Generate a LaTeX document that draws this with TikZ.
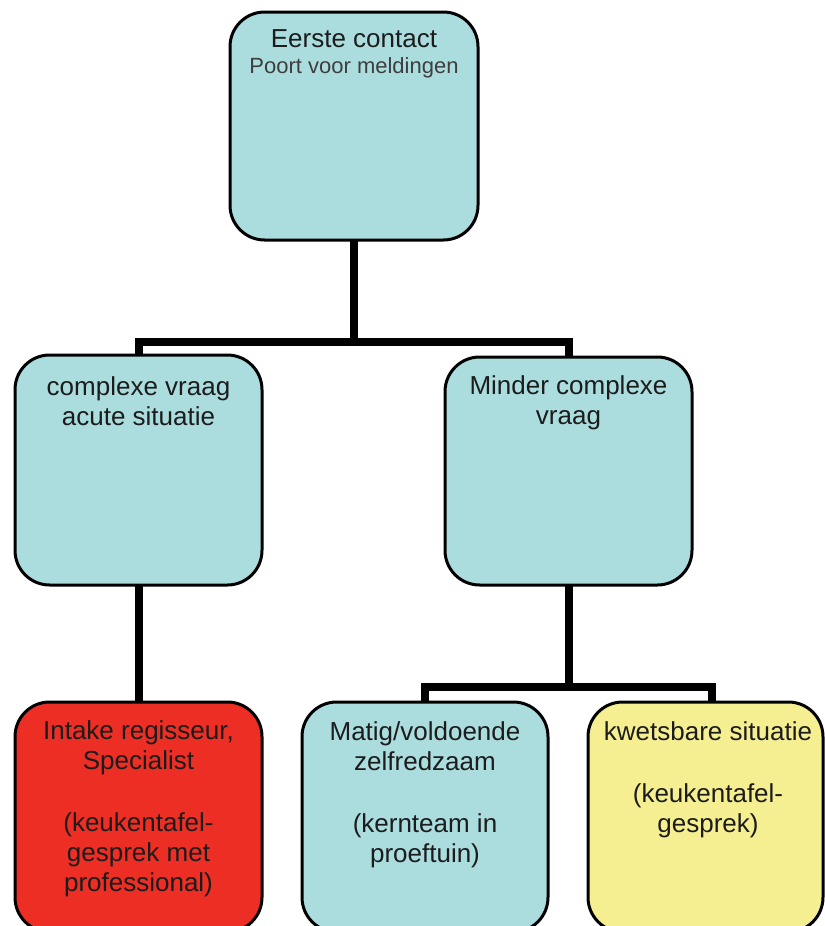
\documentclass[tikz,border=0pt]{standalone}
\usepackage{fontspec}
\setmainfont{Liberation Sans}
\definecolor{boxblue}{RGB}{171,221,223}
\definecolor{boxred}{RGB}{236,46,36}
\definecolor{boxyellow}{RGB}{245,239,146}
\definecolor{txt}{RGB}{28,28,28}
\begin{document}
\begin{tikzpicture}[x=0.75pt,y=-0.75pt,
  box/.style={draw=black, line width=2.25pt, rounded corners=26pt, inner sep=0pt, rectangle},
  conn/.style={draw=black, line width=6pt},
  lbl/.style={anchor=north, align=center, inner sep=0pt, text=txt,
    font=\fontsize{19.5}{22.5}\selectfont},
  toplbl/.style={anchor=base, align=center, inner sep=0pt, text=txt,
    font=\fontsize{19.5}{22.5}\selectfont},
  sublbl/.style={anchor=base, align=center, inner sep=0pt, text=txt!85,
    font=\fontsize{16.5}{19.5}\selectfont}]
\useasboundingbox (0,0) rectangle (825,926);
\begin{scope}
\clip (0,0) rectangle (825,926);
% junction coordinates
\coordinate (j1) at (354,342);
\coordinate (j2) at (568.5,687);
\coordinate (ycn) at (712,702);
\coordinate (tops) at (354,240);
\coordinate (lmn) at (138.5,355);
\coordinate (rmn) at (568.5,357);
\coordinate (lms) at (138.5,585);
\coordinate (redn) at (138.5,702);
\coordinate (rms) at (568.5,585);
\coordinate (mbn) at (425,702);
% connectors (drawn first, boxes on top)
\draw[conn] (tops) -- (j1);
\draw[conn] (lmn) |- (j1) -| (rmn);
\draw[conn] (lms) -- (redn);
\draw[conn] (rms) -- (j2);
\draw[conn] (mbn) |- (j2) -| (ycn);
% boxes
\node[box, fill=boxblue, minimum width=186pt, minimum height=171pt] (top) at (354,126) {};
\node[box, fill=boxblue, minimum width=185.25pt, minimum height=172.5pt] (lm) at (138.5,470) {};
\node[box, fill=boxblue, minimum width=185.25pt, minimum height=171pt] (rm) at (568.5,471) {};
\node[box, fill=boxred, minimum width=185.25pt, minimum height=172.5pt] (red) at (138.5,817) {};
\node[box, fill=boxblue, minimum width=184.5pt, minimum height=172.5pt] (mb) at (425,817) {};
\node[box, fill=boxyellow, minimum width=176.25pt, minimum height=172.5pt] (yl) at (705.5,817) {};
% texts (north = first baseline - 21px because of \strut)
\node[toplbl] (t1) at (354,47) {Eerste contact};
\node[sublbl] (t2) at (354,73) {Poort voor meldingen};
\node[lbl] (t3) at (138.5,374) {\strut complexe vraag\\acute situatie};
\node[lbl] (t4) at (568.5,373) {\strut Minder complexe\\vraag};
\node[lbl] (t5) at (138.5,718) {\strut Intake regisseur,\\Specialist\\[24pt](keukentafel-\\gesprek met\\professional)};
\node[lbl] (t6) at (425,719) {\strut Matig/voldoende\\zelfredzaam\\[24pt](kernteam in\\proeftuin)};
\node[lbl] (t7) at (708,719) {\strut kwetsbare situatie\\[24pt](keukentafel-\\gesprek)};
\end{scope}
\end{tikzpicture}
\end{document}
